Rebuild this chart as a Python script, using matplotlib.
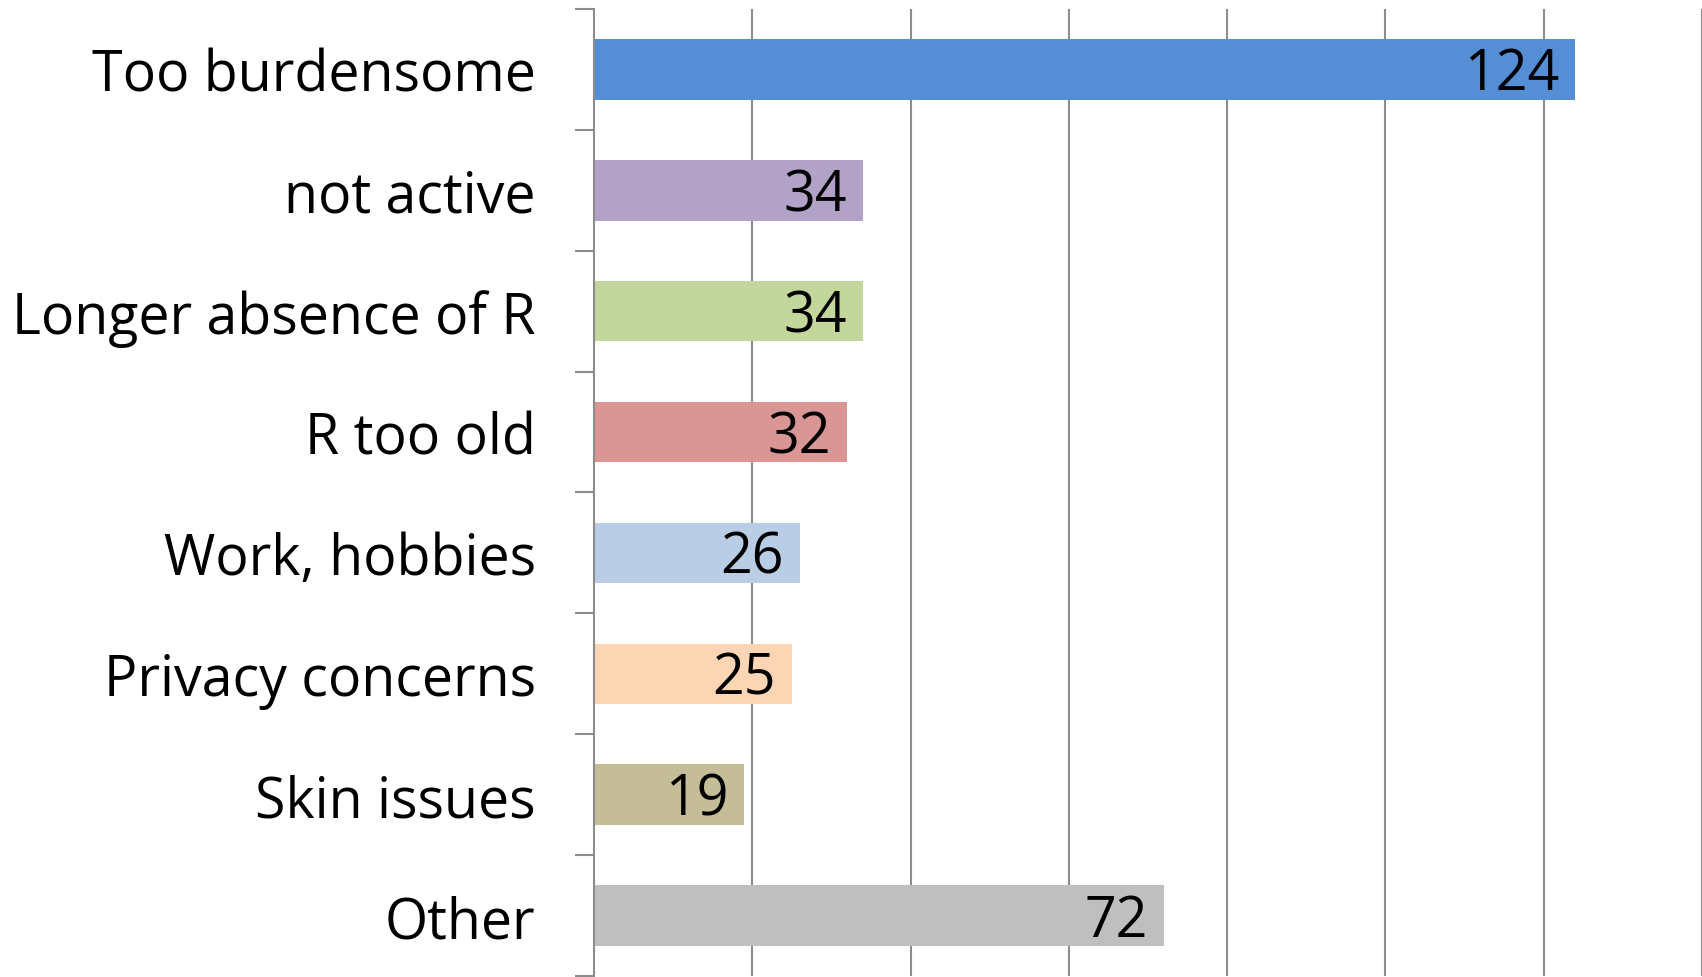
import numpy as np
import matplotlib.pyplot as plt

categories = ['Too burdensome', 'not active', 'Longer absence of R', 'R too old',
              'Work, hobbies', 'Privacy concerns', 'Skin issues', 'Other']
counts = [124, 34, 34, 32, 26, 25, 19, 72]
colors = ['#558ED5', '#B3A2C7', '#C3D69B', '#D99694',
          '#B9CDE5', '#FCD5B5', '#C4BD97', '#BFBFBF']

plt.rcParams['font.family'] = ['Open Sans', 'DejaVu Sans']

fig = plt.figure(figsize=(17.02, 9.78), dpi=100)
ax = fig.add_axes([0.349, 0.001, 0.651, 0.9888])

y = np.arange(len(categories))
ax.barh(y, counts, height=0.5, color=colors, zorder=2)
for yi, v in zip(y, counts):
    ax.annotate(str(v), (v, yi), xytext=(-11.5, -4), textcoords='offset points',
                ha='right', va='center', fontsize=40, color='black', zorder=3)

ax.set_xlim(0, 140)
ax.set_ylim(len(categories) - 0.5, -0.5)
ax.set_xticks(np.arange(20, 141, 20))
ax.xaxis.grid(True, color='#8c8c8c', linewidth=1.5, zorder=1)
ax.tick_params(axis='x', length=0, labelbottom=False)

ax.set_yticks(y)
ax.set_yticklabels(categories, fontsize=40)
ax.set_yticks(np.arange(-0.5, len(categories), 1), minor=True)
ax.tick_params(axis='y', which='major', length=0, pad=42)
ax.tick_params(axis='y', which='minor', length=14, width=1.5, color='#8c8c8c')

for s in ['top', 'right', 'bottom']:
    ax.spines[s].set_visible(False)
ax.spines['left'].set_color('#8c8c8c')
ax.spines['left'].set_linewidth(1.5)

fig.savefig('out.png', dpi=100)
